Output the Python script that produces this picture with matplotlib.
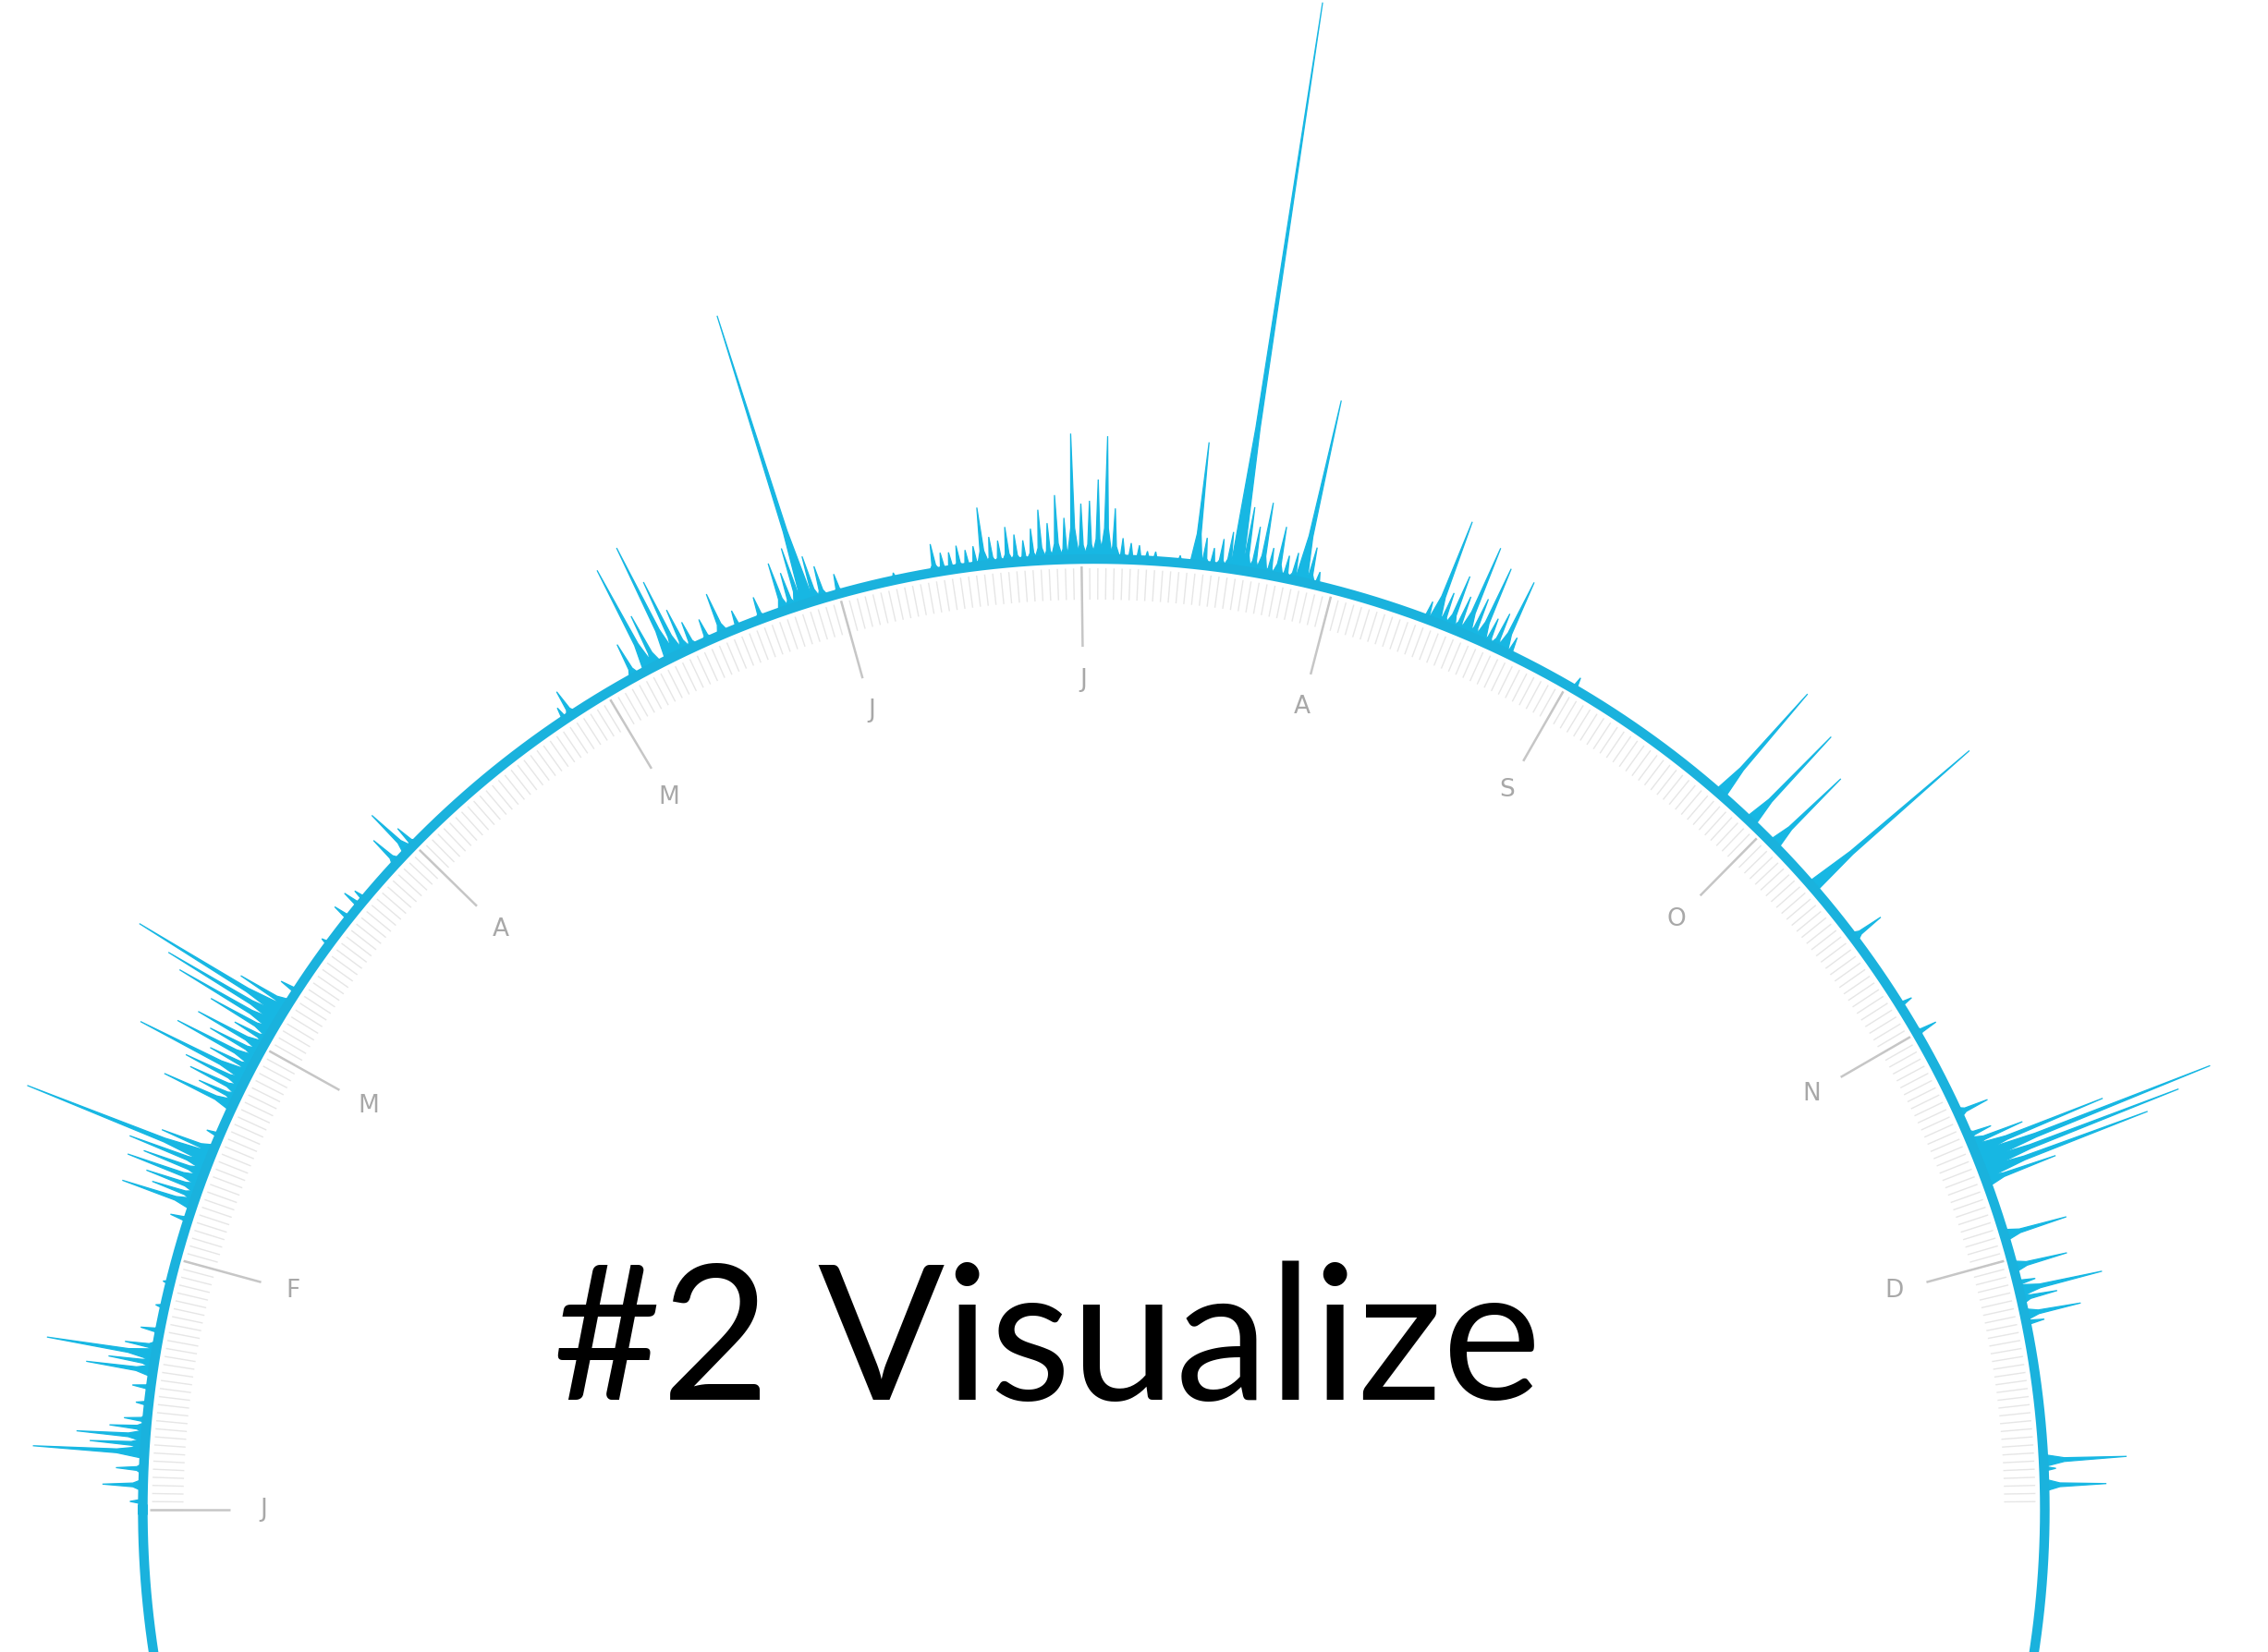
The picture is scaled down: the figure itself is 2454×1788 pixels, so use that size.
import numpy as np
import matplotlib
matplotlib.use('Agg')
import matplotlib.pyplot as plt

# month labels and the day of year where each month starts
month_labels = ['J', 'F', 'M', 'A', 'M', 'J', 'J', 'A', 'S', 'O', 'N', 'D']
month_start = [0, 31, 59, 90, 120, 151, 181, 212, 243, 273, 304, 334]

# days (0 = Jan 1) with activity, and the value on that day
spike_days = [1, 3, 5, 7, 8, 9, 10, 11, 13, 15, 17, 18, 19, 20, 22, 25, 28,
              36, 38, 39, 40, 41, 42, 43, 44, 45, 47, 51, 52, 53, 54, 55, 56,
              57, 58, 59, 60, 61, 62, 63, 64, 65, 67,
              74, 78, 80, 81, 87, 89, 90,
              114, 115,
              124, 126, 127, 129, 130, 131, 132, 134, 136, 138, 141, 144, 145,
              146, 147, 148, 149, 151, 158,
              163, 164, 165, 166, 167, 168, 169, 170, 171, 172, 173, 174, 175,
              176, 177, 178, 179, 180, 181, 182, 183, 184, 185, 186, 187, 188,
              189, 190, 193, 195, 196, 197, 198, 199, 200, 201, 202, 203, 204,
              205, 206, 207, 208, 209, 210,
              224, 225, 226, 227, 228, 229, 230, 231, 232, 233, 234, 235, 244,
              266, 271, 275, 282, 290, 300, 304, 315, 318,
              319, 320, 321, 322, 323, 324,
              331, 335, 337, 338, 339, 341, 342, 359, 360, 362]
spike_values = [14, 44, 30, 121, 60, 75, 40, 25, 14, 20, 73, 50, 119, 35, 21, 10, 8,
                20, 81, 50, 60, 85, 70, 90, 213, 60, 15, 82, 45, 60, 70, 130, 50,
                95, 60, 80, 40, 75, 120, 140, 183, 60, 20,
                10, 20, 21, 14, 35, 55, 25,
                15, 30,
                40, 121, 60, 133, 87, 49, 30, 25, 47, 20, 25, 54, 40,
                65, 326, 50, 36, 22, 8,
                31, 20, 19, 25, 19, 22, 63, 30, 25, 39, 30, 23, 35,
                55, 40, 70, 45, 136, 60, 63, 86, 133, 55, 23, 18, 16,
                10, 10, 8, 133, 30, 20, 31, 40, 621, 70, 50, 78, 30,
                55, 25, 30, 201, 40, 15,
                20, 116, 37, 60, 40, 101, 45, 85, 30, 40, 82, 20, 14,
                144, 127, 102, 225, 37, 15, 24, 35, 27,
                60, 150, 271, 230, 190, 80,
                70, 60, 20, 92, 40, 62, 20, 90, 13, 67]

title = '#2 Visualize'

RING = 1029          # radius of the base circle
BLUE = '#17b7e3'


def day_angle(d):
    # the year runs over half the circle, left to right over the top
    return np.asarray(d, dtype=float) * np.pi / 365.0


def spike(ax, d, v, half=0.75):
    # needle shaped spike: wide at the ring, thin towards the tip
    t = day_angle([d - half, d - half * 0.3, d, d + half * 0.3, d + half])
    r = [RING, RING + 0.25 * v, RING + v, RING + 0.25 * v, RING]
    ax.fill(t, r, color=BLUE, edgecolor=BLUE, lw=0.9, zorder=3)


def main():
    fig = plt.figure(figsize=(24.54, 17.88), dpi=100, facecolor='white')

    # polar axes placed so the ring centre sits near the bottom of the page
    rmax = 1700
    cx, cy = 1183.5, 154.0
    W, H = 2454.0, 1788.0
    ax = fig.add_axes([(cx - rmax) / W, (cy - rmax) / H, 2 * rmax / W, 2 * rmax / H],
                      projection='polar')
    ax.set_theta_zero_location('W')
    ax.set_theta_direction(-1)
    ax.set_ylim(0, rmax)
    ax.axis('off')

    # daily minor ticks inside the ring
    ax.vlines(day_angle(np.arange(365)), RING - 44, RING - 10, colors='#e6e6e6', lw=1.0, zorder=1)

    # month ticks and labels
    ax.vlines(day_angle(month_start), RING - 95, RING - 8, colors='#c6c6c6', lw=1.8, zorder=1)
    for lab, d in zip(month_labels, month_start):
        ax.text(day_angle(d), RING - 131, lab, ha='center', va='center',
                fontsize=19, color='#a8a8a8', family='DejaVu Sans')

    # spikes
    for d, v in zip(spike_days, spike_values):
        spike(ax, d, v)

    # base ring
    ring_t = np.linspace(0, 2 * np.pi, 1441)
    ax.plot(ring_t, np.full(ring_t.shape, RING), color='#1ab2dd', lw=7.5, zorder=4)

    fig.text(1133 / W, 1 - 1515 / H, title, ha='center', va='baseline',
             fontsize=146, color='black', family='Lato')

    plt.savefig('out.png', dpi=100, facecolor='white')


if __name__ == '__main__':
    main()
